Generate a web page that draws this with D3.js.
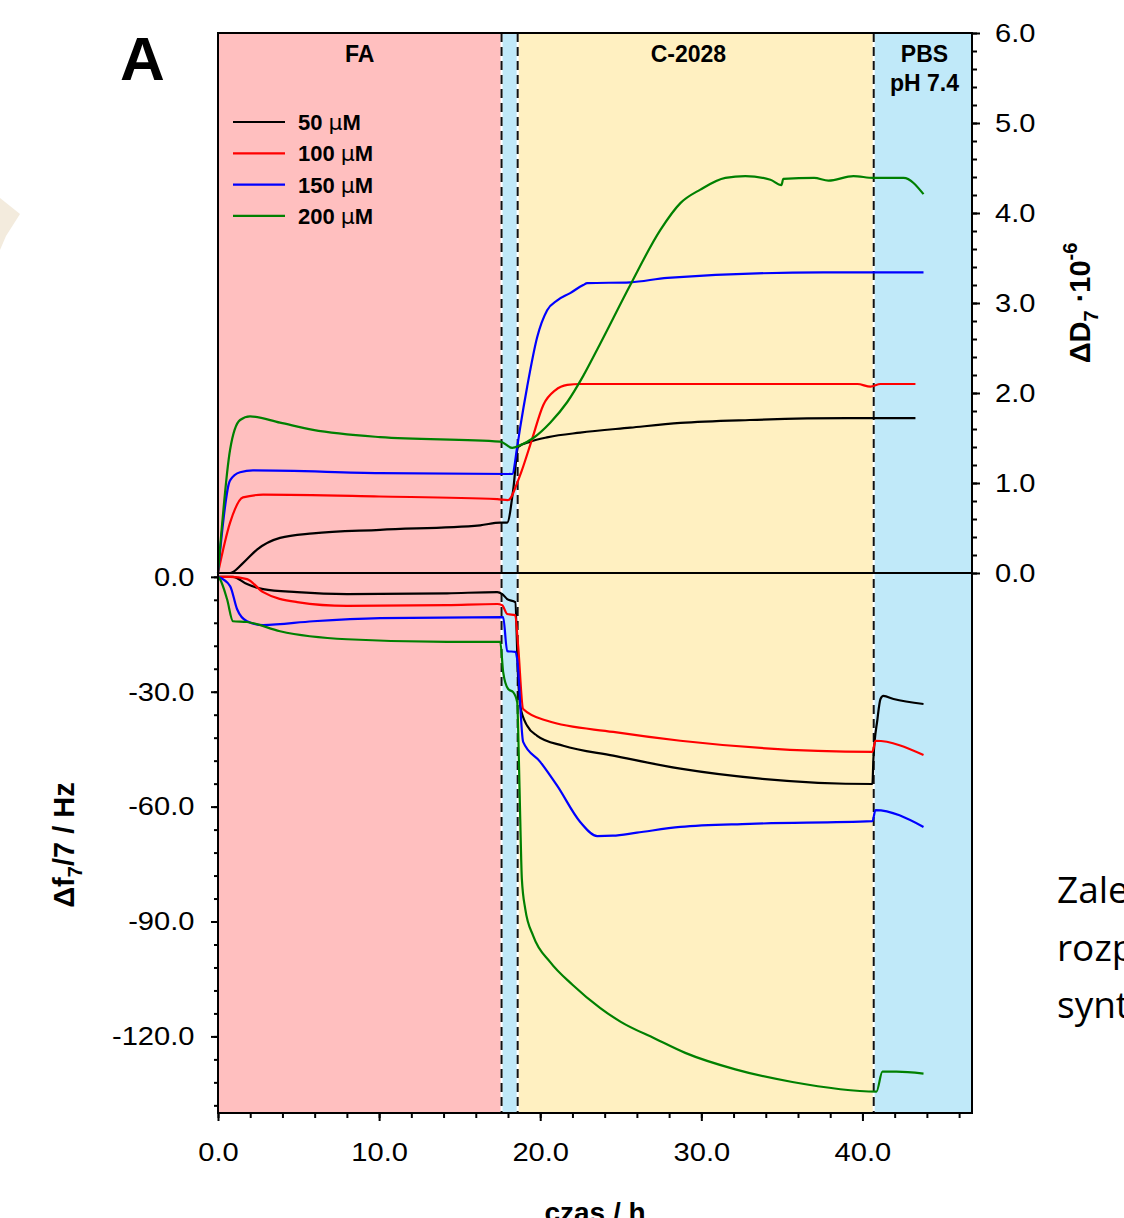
<!DOCTYPE html>
<html>
<head>
<meta charset="utf-8">
<script src="https://cdn.jsdelivr.net/npm/d3@7"></script>
<style>
  body { margin: 0; background: #fff; }
  text { font-family: "Liberation Sans", Arial, sans-serif; }
</style>
</head>
<body>
<div id="chart"></div>
<script>
// phases of the experiment (hours), labelT = where the name sits
let phases = [
  { name: "FA", start: 0, end: 17.6, labelT: 8.8, color: "#ffbfbf" },
  { name: "", start: 17.6, end: 18.6, labelT: 18.1, color: "#c0e9f9" },
  { name: "C-2028", start: 18.6, end: 40.7, labelT: 29.2, color: "#fff0c1" },
  { name: "PBS|pH 7.4", start: 40.7, end: 46.8, labelT: 43.85, color: "#c0e9f9" },
];
let dashTimes = [17.6, 18.6, 40.7];

let concLabels = ["50", "100", "150", "200"];
let colors = ["#000000", "#ff0000", "#0000ff", "#008000"];

// dissipation change, [time h, dD * 1e6]
let dD_50 = [[0,0],[0.75,0],[1.55,0.11],[2.42,0.26],[3.85,0.39],[5.9,0.44],[10.06,0.48],[16.27,0.53],[17.52,0.56],[17.95,0.56],[18.32,0.92],[18.63,1.4],[19.38,1.46],[20.5,1.51],[22.48,1.56],[25.59,1.615],[28.7,1.667],[33,1.7],[39.07,1.72],[43.29,1.72]];
let dD_100 = [[0,0],[0.75,0.56],[1.55,0.84],[2.8,0.87],[10,0.85],[17.33,0.82],[18.0,0.81],[18.63,1.03],[18.86,1.14],[19.48,1.48],[20.2,1.87],[20.93,2.03],[21.68,2.09],[22.48,2.1],[30,2.1],[39.69,2.1],[40.5,2.07],[41.12,2.1],[43.29,2.1]];
let dD_150 = [[0,0],[0.75,1.03],[1.37,1.12],[2.17,1.14],[10.06,1.11],[18.26,1.1],[18.57,1.4],[18.76,1.62],[19.19,2.07],[19.81,2.62],[20.43,2.92],[21.06,3.03],[21.86,3.11],[22.67,3.2],[22.92,3.22],[25.59,3.23],[27.89,3.28],[37.58,3.34],[43.79,3.34]];
let dD_200 = [[0,0],[0.75,1.37],[1.37,1.7],[1.99,1.74],[3.85,1.67],[5.9,1.59],[10.06,1.51],[17.52,1.46],[18.26,1.39],[18.76,1.42],[19.57,1.5],[20.62,1.67],[21.68,1.9],[22.67,2.19],[23.73,2.55],[25.59,3.2],[27.45,3.81],[28.7,4.11],[29.94,4.26],[31.49,4.39],[32.73,4.41],[34.29,4.37],[34.97,4.31],[35.09,4.38],[37.0,4.39],[37.89,4.36],[39.44,4.41],[40.68,4.39],[42.55,4.39],[43.79,4.21]];

// frequency change, [time h, df/7 Hz]
let df_50 = [[0,0],[0.93,0],[1.8,-1.9],[2.8,-3.2],[4.91,-4.0],[8.01,-4.5],[14.22,-4.3],[17.33,-4.0],[17.64,-4.5],[17.95,-5.8],[18.45,-6.6],[18.63,-26.7],[18.76,-33.7],[19.19,-38.9],[19.81,-41.5],[21.43,-44.1],[24.53,-46.7],[28.7,-50.1],[33.66,-52.7],[40.62,-54.1],[40.68,-47.6],[40.93,-37.2],[41.12,-31.9],[41.3,-31.1],[41.93,-31.9],[43.79,-33.2]];
let df_100 = [[0,0],[0.75,0],[1.8,-0.6],[2.8,-4.0],[4.91,-6.6],[8.01,-7.6],[14.22,-7.4],[17.33,-7.1],[17.64,-7.4],[17.95,-9.7],[18.45,-10.0],[18.63,-18.1],[18.94,-34.5],[20.43,-37.6],[24.53,-40.5],[28.7,-42.8],[40.62,-45.7],[40.81,-42.8],[43.79,-46.5]];
let df_150 = [[0,0],[0.75,-2.4],[1.18,-8.4],[1.8,-11.6],[2.8,-12.6],[5.9,-11.6],[10.06,-10.8],[17.7,-10.5],[17.95,-19.4],[18.45,-19.6],[18.57,-21.5],[18.94,-43.1],[20.0,-48.3],[21.06,-54.6],[22.48,-64.0],[23.54,-67.7],[24.5,-67.6],[26.0,-66.8],[28.7,-65.3],[33,-64.5],[40.62,-63.8],[40.81,-60.9],[43.79,-65.3]];
let df_200 = [[0,0],[0.12,-0.6],[0.56,-5.8],[0.93,-11.6],[1.8,-11.8],[3.85,-14.2],[8.01,-16.3],[14.22,-17.0],[17.52,-17.0],[17.7,-24.9],[18.01,-29.3],[18.32,-30.1],[18.57,-32.7],[18.66,-45],[18.76,-63.3],[18.86,-78.9],[19.07,-86.7],[19.57,-93.8],[20.62,-100.6],[22.0,-106.5],[23.73,-112.6],[25.0,-116.2],[27.14,-120.6],[29.0,-124.3],[32.11,-128.6],[35.65,-131.9],[40.87,-134.4],[41.24,-129.2],[42.11,-129.2],[43.79,-129.7]];

let xTicks = [0, 10, 20, 30, 40];
let fTicks = [0, -30, -60, -90, -120];
let dTicks = [0, 1, 2, 3, 4, 5, 6];

let width = 1124,
  height = 1218;
let mLeft = 218, mRight = 972, mTop = 33, mBottom = 1113; // plot box

let svg = d3.select("#chart").append("svg")
  .attr("width", width).attr("height", height);

let x = d3.scaleLinear().domain([0, 46.8]).range([mLeft, mRight]);
let yF = d3.scaleLinear().domain([-140, 142]).range([mBottom, mTop]); // left axis
let yD = d3.scaleLinear().domain([0, 6]).range([573, mTop]); // right axis

// faint cut-off shape at the left page edge
svg.append("path").attr("d", "M0,198 L20,214 L6,236 L0,250 Z").attr("fill", "#f3ebdd");

// phase backgrounds
svg.selectAll("rect.phase").data(phases).join("rect")
  .attr("class", "phase")
  .attr("x", (d) => x(d.start)).attr("y", mTop)
  .attr("width", (d) => x(d.end) - x(d.start)).attr("height", mBottom - mTop)
  .attr("fill", (d) => d.color);

// phase names
phases.forEach((p) => {
  if (!p.name) return;
  let lines = p.name.split("|");
  let t = svg.append("text")
    .attr("x", x(p.labelT)).attr("y", 62)
    .attr("text-anchor", "middle")
    .style("font-size", "23px").style("font-weight", "bold");
  lines.forEach((l, i) => {
    t.append("tspan").attr("x", x(p.labelT)).attr("dy", i == 0 ? 0 : 29).text(l);
  });
});

// dashed separators: white under black dashes
dashTimes.forEach((t) => {
  svg.append("line").attr("x1", x(t)).attr("x2", x(t)).attr("y1", mTop).attr("y2", mBottom)
    .attr("stroke", "#fff").attr("stroke-width", 2);
  svg.append("line").attr("x1", x(t)).attr("x2", x(t)).attr("y1", mTop).attr("y2", mBottom)
    .attr("stroke", "#111").attr("stroke-width", 2).attr("stroke-dasharray", "9,5");
});

// zero line
svg.append("line").attr("x1", mLeft).attr("x2", mRight).attr("y1", yD(0)).attr("y2", yD(0))
  .attr("stroke", "#000").attr("stroke-width", 2);

// curves
let lineD = d3.line().x((d) => x(d[0])).y((d) => yD(d[1])).curve(d3.curveMonotoneX);
let lineF = d3.line().x((d) => x(d[0])).y((d) => yF(d[1])).curve(d3.curveMonotoneX);
let dSeries = [dD_50, dD_100, dD_150, dD_200];
let fSeries = [df_50, df_100, df_150, df_200];

svg.selectAll("path.dd").data(dSeries).join("path")
  .attr("class", "dd").attr("d", lineD)
  .attr("fill", "none").attr("stroke", (d, i) => colors[i]).attr("stroke-width", 2.2);
svg.selectAll("path.df").data(fSeries).join("path")
  .attr("class", "df").attr("d", lineF)
  .attr("fill", "none").attr("stroke", (d, i) => colors[i]).attr("stroke-width", 2.2);

// frame
svg.append("rect").attr("x", mLeft).attr("y", mTop).attr("width", mRight - mLeft).attr("height", mBottom - mTop)
  .attr("fill", "none").attr("stroke", "#000").attr("stroke-width", 2);

// axes
function styleAxis(g) {
  g.select(".domain").remove();
  g.selectAll("line").attr("stroke", "#000").attr("stroke-width", 2);
  g.selectAll("text").style("font-size", "26px").attr("fill", "#000")
    .attr("transform", "scale(1.12,1)"); // original tick font is a bit wider
}
let fmt = (d) => d3.format(".1f")(d).replace("−", "-"); // plain hyphen like the original

svg.append("g").attr("transform", `translate(0,${mBottom})`)
  .call(d3.axisBottom(x).tickValues(d3.range(0, 47, 2)).tickSize(5).tickFormat(""))
  .call(styleAxis);
svg.append("g").attr("transform", `translate(0,${mBottom})`)
  .call(d3.axisBottom(x).tickValues(xTicks).tickSize(8).tickPadding(22).tickFormat(fmt))
  .call(styleAxis);

svg.append("g").attr("transform", `translate(${mLeft},0)`)
  .call(d3.axisLeft(yF).tickValues(d3.range(0, -139, -6)).tickSize(4).tickFormat(""))
  .call(styleAxis);
svg.append("g").attr("transform", `translate(${mLeft},0)`)
  .call(d3.axisLeft(yF).tickValues(fTicks).tickSize(7).tickPadding(14).tickFormat(fmt))
  .call(styleAxis);

svg.append("g").attr("transform", `translate(${mRight},0)`)
  .call(d3.axisRight(yD).tickValues(d3.range(0, 6.01, 0.2)).tickSize(5).tickFormat(""))
  .call(styleAxis);
svg.append("g").attr("transform", `translate(${mRight},0)`)
  .call(d3.axisRight(yD).tickValues(dTicks).tickSize(8).tickPadding(12.5).tickFormat(fmt))
  .call(styleAxis);

// axis titles
let tl = svg.append("text").attr("transform", "translate(74,845) rotate(-90)")
  .attr("text-anchor", "middle").style("font-size", "29px").style("font-weight", "bold");
tl.append("tspan").text("Δf");
tl.append("tspan").attr("dy", 8).style("font-size", "20px").text("7");
tl.append("tspan").attr("dy", -8).text("/7 / Hz");

let tr = svg.append("text").attr("transform", "translate(1090,303) rotate(-90)")
  .attr("text-anchor", "middle").style("font-size", "29px").style("font-weight", "bold");
tr.append("tspan").text("ΔD");
tr.append("tspan").attr("dy", 8).style("font-size", "20px").text("7");
tr.append("tspan").attr("dy", -8).text(" ·10");
tr.append("tspan").attr("dy", -13).style("font-size", "20px").text("-6");

svg.append("text").attr("x", 595).attr("y", 1222).attr("text-anchor", "middle")
  .style("font-size", "28px").style("font-weight", "bold").text("czas / h");

// panel letter
svg.append("text").attr("x", 120).attr("y", 80)
  .style("font-size", "62px").style("font-weight", "bold").text("A");

// legend
let legend = svg.selectAll("g.leg").data(concLabels).join("g")
  .attr("class", "leg")
  .attr("transform", (d, i) => `translate(233,${122 + i * 31.3})`);
legend.append("line").attr("x1", 0).attr("x2", 52)
  .attr("stroke", (d, i) => colors[i]).attr("stroke-width", 2.2);
let lt = legend.append("text").attr("x", 65).attr("y", 8)
  .style("font-size", "22px").style("font-weight", "bold");
lt.append("tspan").text((d) => d + " ");
lt.append("tspan").style("font-weight", "normal").style("font-family", "DejaVu Sans").text("μ");
lt.append("tspan").text("M");

// cut-off slide text at right edge
["Zale", "rozp", "synt"].forEach((s, i) => {
  svg.append("text").attr("x", 1057).attr("y", 903 + i * 57.5)
    .style("font-family", "'Open Sans', sans-serif").style("font-size", "37px").text(s);
});
</script>
</body>
</html>
